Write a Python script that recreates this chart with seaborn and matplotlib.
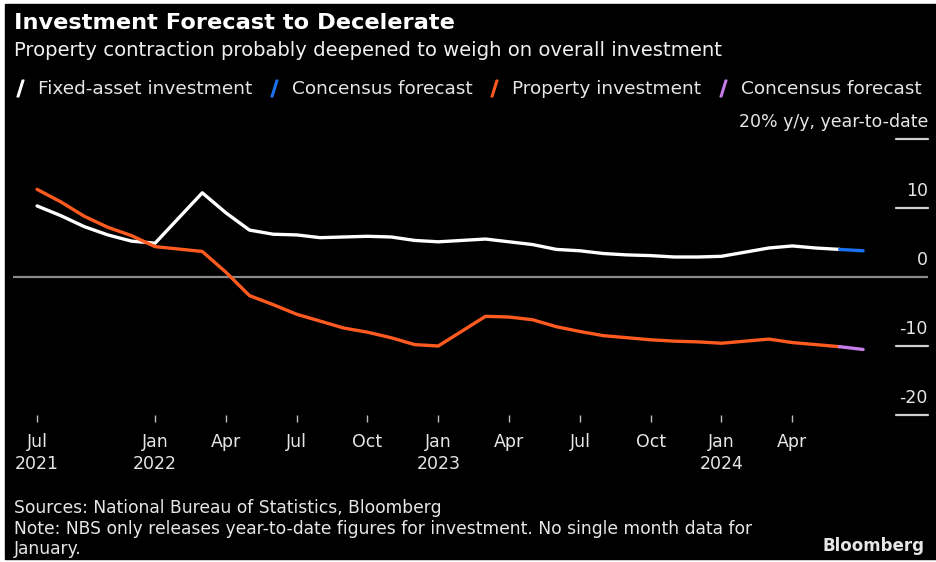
import matplotlib
matplotlib.use("Agg")
import matplotlib.pyplot as plt
from matplotlib.lines import Line2D
from matplotlib.patches import Rectangle
import pandas as pd
import seaborn as sns

# month slots counted from Jul 2021 (January slots are empty: no single-month data)
MONTH_SLOT = [0, 1, 2, 3, 4, 5,
              7, 8, 9, 10, 11, 12, 13, 14, 15, 16, 17,
              19, 20, 21, 22, 23, 24, 25, 26, 27, 28, 29,
              31, 32, 33, 34]
FAI = [10.3, 8.9, 7.3, 6.1, 5.2, 4.9,
       12.2, 9.3, 6.8, 6.2, 6.1, 5.7, 5.8, 5.9, 5.8, 5.3, 5.1,
       5.5, 5.1, 4.7, 4.0, 3.8, 3.4, 3.2, 3.1, 2.9, 2.9, 3.0,
       4.2, 4.5, 4.2, 4.0]
PROPERTY = [12.7, 10.9, 8.8, 7.2, 6.0, 4.4,
            3.7, 0.7, -2.7, -4.0, -5.4, -6.4, -7.4, -8.0, -8.8, -9.8, -10.0,
            -5.7, -5.8, -6.2, -7.2, -7.9, -8.5, -8.8, -9.1, -9.3, -9.4, -9.6,
            -9.0, -9.5, -9.8, -10.1]
FORECAST_SLOT = 35
FAI_FORECAST = 3.8
PROPERTY_FORECAST = -10.5

XTICK_POS = [0, 5, 8, 11, 14, 17, 20, 23, 26, 29, 32]
XTICK_LABELS = ["Jul\n2021", "Jan\n2022", "Apr", "Jul", "Oct", "Jan\n2023",
                "Apr", "Jul", "Oct", "Jan\n2024", "Apr"]
YTICKS = [20, 10, 0, -10, -20]
YTICK_LABELS = ["20% y/y, year-to-date", "10", "0", "-10", "-20"]

SERIES_LABELS = ["Fixed-asset investment", "Concensus forecast",
                 "Property investment", "Concensus forecast"]
COLORS = ["#ffffff", "#1a72f0", "#ff5a1f", "#c77ee8"]

W, H = 937, 562
BG = "#000000"
FONT = ["DejaVu Sans"]

sns.set_theme(style="dark")
plt.rcParams["font.family"] = FONT

actual = pd.DataFrame({"slot": MONTH_SLOT, "fai": FAI, "prop": PROPERTY})
fc_fai = pd.DataFrame({"slot": [MONTH_SLOT[-1], FORECAST_SLOT], "v": [FAI[-1], FAI_FORECAST]})
fc_prop = pd.DataFrame({"slot": [MONTH_SLOT[-1], FORECAST_SLOT], "v": [PROPERTY[-1], PROPERTY_FORECAST]})

fig = plt.figure(figsize=(W / 100, H / 100), dpi=100, facecolor="white")
fig.patches.append(Rectangle((5 / W, 3 / H), 1.0, 1 - 7 / H,
                             transform=fig.transFigure, color=BG, zorder=-5))


def px(x, y):
    return x / W, 1 - y / H


left, right, top, bottom = 13, 928, 139, 415
ax = fig.add_axes([left / W, 1 - bottom / H, (right - left) / W, (bottom - top) / H])
ax.set_zorder(2)
ax.set_facecolor(BG)
ax.set_xlim(-1.02, 37.75)
ax.set_ylim(-20, 20)
for s in ax.spines.values():
    s.set_visible(False)

ax.axhline(0, color="#8a8a8a", lw=1.6, zorder=1)

lw = 2.4
sns.lineplot(data=actual, x="slot", y="fai", color=COLORS[0], lw=lw, ax=ax, zorder=3)
sns.lineplot(data=fc_fai, x="slot", y="v", color=COLORS[1], lw=lw, ax=ax, zorder=3)
sns.lineplot(data=actual, x="slot", y="prop", color=COLORS[2], lw=lw, ax=ax, zorder=3)
sns.lineplot(data=fc_prop, x="slot", y="v", color=COLORS[3], lw=lw, ax=ax, zorder=3)
ax.set_xlabel("")
ax.set_ylabel("")

# x axis ticks
ax.set_xticks(XTICK_POS)
ax.set_xticklabels(XTICK_LABELS, color="#e6e6e6", fontsize=12.5, linespacing=1.3)
ax.tick_params(axis="x", bottom=True, length=5, width=1, color="#bdbdbd",
               direction="out", pad=8)

# y axis: Bloomberg-style labels sitting above short right-hand rules
ax.set_yticks([])
for val, lab in zip(YTICKS, YTICK_LABELS):
    if val != 0:
        ax.plot([0.965, 1.0], [val, val], transform=ax.get_yaxis_transform(),
                color="#d0d0d0", lw=1.6, clip_on=False, zorder=2)
    ax.annotate(lab, xy=(1.0, val), xycoords=("axes fraction", "data"),
                xytext=(0, 6), textcoords="offset points", ha="right", va="bottom",
                color="#e6e6e6", fontsize=12.5)

# title block
fig.text(*px(14, 23), "Investment Forecast to Decelerate", color="white",
         fontsize=16.2, fontweight="bold", va="center", ha="left")
fig.text(*px(14, 50), "Property contraction probably deepened to weigh on overall investment",
         color="#f0f0f0", fontsize=14.1, va="center", ha="left")

handles = [Line2D([], [], color=c, marker="$/$", linestyle="None", markersize=12)
           for c in COLORS]
fig.legend(handles, SERIES_LABELS, loc="center left", bbox_to_anchor=px(4, 89),
           ncol=4, frameon=False, fontsize=13.3, labelcolor="#e6e6e6",
           handlelength=0.9, handletextpad=0.52, columnspacing=0.73, borderaxespad=0)

# footer
fig.text(*px(14, 508), "Sources: National Bureau of Statistics, Bloomberg",
         color="#e6e6e6", fontsize=12.3, va="center")
fig.text(*px(14, 529), "Note: NBS only releases year-to-date figures for investment. No single month data for",
         color="#e6e6e6", fontsize=12.3, va="center")
fig.text(*px(14, 549), "January.", color="#e6e6e6", fontsize=12.3, va="center")
fig.text(*px(925, 546), "Bloomberg", color="#e6e6e6", fontsize=12,
         fontweight="bold", va="center", ha="right")

fig.savefig("out.png", dpi=100, facecolor=fig.get_facecolor())
